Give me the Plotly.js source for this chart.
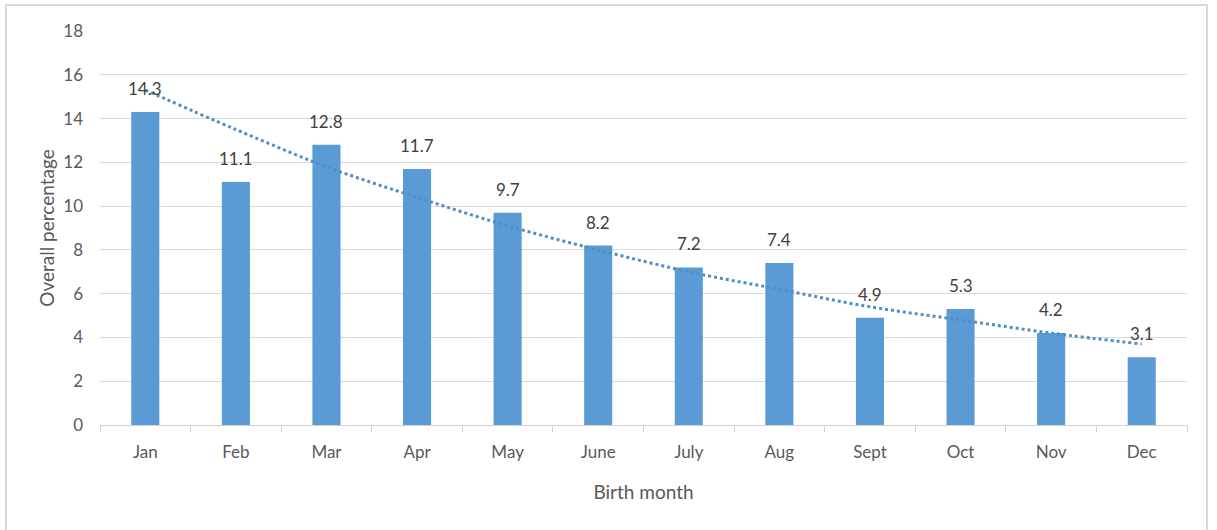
<!DOCTYPE html>
<html>
<head>
<meta charset="utf-8">
<script src="https://cdn.plot.ly/plotly-3.0.1.min.js"></script>
<style>
  html, body { margin: 0; padding: 0; background: #fff; }
  #wrap { position: relative; width: 1217px; height: 530px; overflow: hidden; }
  #chart { width: 1217px; height: 530px; }
  #frame { position: absolute; left: 5px; top: 4px; width: 1203px; height: 540px;
           border: 2px solid #d9d9d9; box-sizing: border-box; pointer-events: none; }
</style>
</head>
<body>
<div id="wrap">
  <div id="chart"></div>
  <div id="frame"></div>
</div>
<script>
// Share of births by month (percent)
const months = ['Jan', 'Feb', 'Mar', 'Apr', 'May', 'June', 'July', 'Aug', 'Sept', 'Oct', 'Nov', 'Dec'];
const percentages = [14.3, 11.1, 12.8, 11.7, 9.7, 8.2, 7.2, 7.4, 4.9, 5.3, 4.2, 3.1];
// Exponential trend through the monthly values
const trend = [15.3, 13.5, 11.8, 10.4, 9.1, 8.0, 7.0, 6.2, 5.4, 4.8, 4.2, 3.7];

const FONT = 'Lato, "Open Sans", sans-serif';
const TXT = '#595959';

const bars = {
  type: 'bar',
  x: months,
  y: percentages,
  marker: { color: '#5b9bd5' },
  hoverinfo: 'x+y',
  showlegend: false
};

const trendLine = {
  type: 'scatter',
  mode: 'lines',
  x: months,
  y: trend,
  line: { color: '#4f8fc9', width: 3, dash: 'dot', shape: 'spline' },
  hoverinfo: 'skip',
  showlegend: false
};

const labels = months.map((m, i) => ({
  x: m, y: percentages[i], xref: 'x', yref: 'y',
  text: percentages[i].toFixed(1),
  showarrow: false, yanchor: 'bottom', yshift: 11,
  font: { family: FONT, size: 17, color: '#404040' }
}));

const layout = {
  width: 1217, height: 530,
  margin: { l: 100, r: 30, t: 31, b: 105 },
  paper_bgcolor: '#ffffff',
  plot_bgcolor: '#ffffff',
  bargap: 0.69,
  font: { family: FONT, size: 17, color: TXT },
  xaxis: {
    type: 'category',
    showgrid: false,
    showline: true, linecolor: '#d0d0d0', linewidth: 1,
    ticks: 'outside', tickson: 'boundaries', ticklen: 6, tickcolor: '#d0d0d0',
    ticklabelstandoff: 12,
    tickfont: { family: FONT, size: 17, color: TXT },
    title: { text: 'Birth month', font: { family: FONT, size: 19, color: TXT }, standoff: 24 }
  },
  yaxis: {
    range: [0, 18], dtick: 2,
    showgrid: true, gridcolor: '#d9d9d9', gridwidth: 1,
    zeroline: false, showline: false, ticks: '',
    ticklabelstandoff: 16,
    tickfont: { family: FONT, size: 17, color: TXT },
    title: { text: 'Overall percentage', font: { family: FONT, size: 19, color: TXT }, standoff: 3 }
  },
  annotations: labels
};

Plotly.newPlot('chart', [bars, trendLine], layout, { displayModeBar: false, staticPlot: true });
</script>
</body>
</html>
